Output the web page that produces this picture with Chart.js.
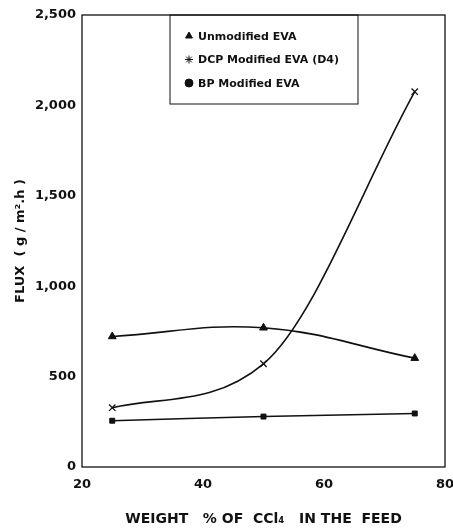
<!DOCTYPE html>
<html>
<head>
<meta charset="utf-8">
<script src="https://cdn.jsdelivr.net/npm/chart.js@4/dist/chart.umd.min.js"></script>
<style>
  html, body { margin: 0; padding: 0; background: #fff; }
  #wrap { width: 453px; height: 529px; }
</style>
</head>
<body>
<div id="wrap"><canvas id="myChart" width="453" height="529"></canvas></div>
<script>
// Values
const weight = [25, 50, 75];
const unmodified = [722, 770, 602];
const dcpModified = [328, 571, 2076];
const bpModified = [256, 279, 296];

const labels = ["Unmodified EVA", "DCP Modified EVA (D4)", "BP Modified EVA"];
const pointStyles = ["triangle", "crossRot", "rect"];
const legendStyles = ["triangle", "star", "circle"];
const xTicks = [20, 40, 60, 80];
const yTicks = [0, 500, 1000, 1500, 2000, 2500];

const ink = "#111";
const fam = "'DejaVu Sans', Arial, sans-serif";
const tickFont = { family: fam, size: 13, weight: "bold" };

function series(values) {
	return values.map((v, i) => ({ x: weight[i], y: v }));
}

// Box round the plot area
const framePlugin = {
	id: "frame",
	afterDraw(chart) {
		const a = chart.chartArea;
		const ctx = chart.ctx;
		ctx.save();
		ctx.strokeStyle = ink;
		ctx.lineWidth = 1.3;
		ctx.strokeRect(a.left, a.top, a.right - a.left, a.bottom - a.top);
		ctx.restore();
	}
};

// Legend drawn as a box hanging from the top of the plot
const boxLegend = {
	id: "boxLegend",
	afterDraw(chart) {
		const ctx = chart.ctx;
		const top = chart.chartArea.top;
		ctx.save();
		ctx.strokeStyle = ink;
		ctx.lineWidth = 1;
		ctx.strokeRect(170, top, 188, 89);
		ctx.font = "bold 11px " + fam;
		ctx.textBaseline = "middle";
		chart.data.datasets.forEach((ds, i) => {
			const y = top + 21 + i * 23.5;
			ctx.fillStyle = ink;
			ctx.strokeStyle = ink;
			Chart.helpers.drawPoint(ctx, {
				pointStyle: legendStyles[i],
				radius: 4,
				borderWidth: 1.3
			}, 189, y);
			ctx.fillStyle = ink;
			ctx.fillText(ds.label, 198, y + 1);
		});
		ctx.restore();
	}
};

const sets = [unmodified, dcpModified, bpModified].map((vals, i) => ({
	label: labels[i],
	data: series(vals),
	borderColor: ink,
	backgroundColor: ink,
	borderWidth: 1.6,
	tension: 0.4,
	cubicInterpolationMode: i === 1 ? "monotone" : "default",
	pointStyle: pointStyles[i],
	pointRadius: i === 2 ? 3.5 : 4.5,
	pointBorderWidth: i === 1 ? 1.3 : 1,
	pointBackgroundColor: ink,
	pointBorderColor: ink,
	clip: false
}));

new Chart("myChart", {
	type: "line",
	data: { datasets: sets },
	options: {
		responsive: false,
		animation: false,
		layout: { padding: { top: 15, right: 8, left: 0, bottom: 0 } },
		plugins: {
			legend: { display: false },
			tooltip: { enabled: false }
		},
		scales: {
			x: {
				type: "linear",
				min: 20,
				max: 80,
				grid: { display: false, drawTicks: false },
				border: { display: false },
				afterBuildTicks: (s) => { s.ticks = xTicks.map(v => ({ value: v })); },
				afterFit: (s) => { s.height = 62; s.paddingLeft = 0; s.paddingRight = 0; },
				ticks: { color: ink, font: tickFont, padding: 10, maxRotation: 0 },
				title: {
					display: true,
					text: "WEIGHT   % OF  CCl\u2084   IN THE  FEED",
					color: ink,
					font: { family: fam, size: 14, weight: "bold" },
					padding: { top: 0, bottom: 1 }
				}
			},
			y: {
				min: 0,
				max: 2500,
				grid: { display: false, drawTicks: false },
				border: { display: false },
				afterBuildTicks: (s) => { s.ticks = yTicks.map(v => ({ value: v })); },
				afterFit: (s) => { s.width = 82; },
				ticks: {
					color: ink,
					font: tickFont,
					padding: 6,
					callback: (v) => v.toLocaleString("en-US")
				},
				title: {
					display: true,
					text: "FLUX  ( g / m\u00b2.h )",
					color: ink,
					font: { family: fam, size: 13, weight: "bold" },
					padding: { top: 13, bottom: 0 }
				}
			}
		}
	},
	plugins: [framePlugin, boxLegend]
});
</script>
</body>
</html>
